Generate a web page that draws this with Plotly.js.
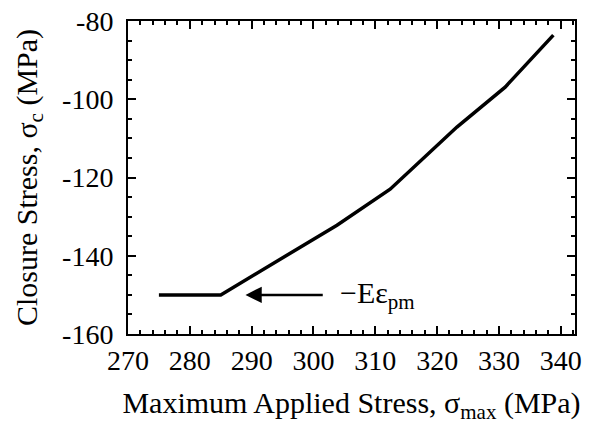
<!DOCTYPE html>
<html>
<head>
<meta charset="utf-8">
<script src="https://cdn.plot.ly/plotly-3.0.1.min.js"></script>
<style>
html,body{margin:0;padding:0;background:#fff;}
#chart{width:597px;height:428px;}
</style>
</head>
<body>
<div id="chart"></div>
<script>
// Data
const maxStress = [275, 285, 303.8, 312.4, 323.2, 331, 338.8];
const closureStress = [-150, -150, -132.2, -123, -107.1, -96.9, -83.6];

const xTickVals = [270, 280, 290, 300, 310, 320, 330, 340];
const xTickText = ["270", "280", "290", "300", "310", "320", "330", "340"];
const yTickVals = [-160, -140, -120, -100, -80];
const yTickText = ["-160\u00a0", "-140\u00a0", "-120\u00a0", "-100\u00a0", "-80\u00a0"];

// Arrow annotation (head and tail on the data scale, at the plateau level)
const arrowHeadX = 289;
const arrowTailX = 301.5;
const arrowY = -150;
const labelText = "\u00a0\u00a0\u2212E\u03b5<sub>pm</sub>";

const FONT = "Liberation Serif";

const layout = {
  width: 597,
  height: 428,
  margin: {l: 128, r: 22, t: 21, b: 94},
  font: {family: FONT, color: "#000", size: 28},
  xaxis: {
    range: [270, 342.3],
    showgrid: false, zeroline: false,
    showline: true, mirror: "ticks", linecolor: "#000", linewidth: 2,
    ticks: "inside", ticklen: 8, tickwidth: 2, tickcolor: "#000",
    tickmode: "array", tickvals: xTickVals, ticktext: xTickText,
    tickfont: {family: FONT, size: 28, color: "#000"},
    minor: {ticks: "inside", dtick: 2, ticklen: 4, tickcolor: "#000"},
    title: {text: "Maximum Applied Stress, \u03c3<sub>max</sub> (MPa)", font: {family: FONT, size: 30, color: "#000"}, standoff: 17}
  },
  yaxis: {
    range: [-160, -80],
    showgrid: false, zeroline: false,
    showline: true, mirror: "ticks", linecolor: "#000", linewidth: 2,
    ticks: "inside", ticklen: 8, tickwidth: 2, tickcolor: "#000",
    tickmode: "array", tickvals: yTickVals, ticktext: yTickText,
    tickfont: {family: FONT, size: 28, color: "#000"},
    minor: {ticks: "inside", dtick: 5, ticklen: 4, tickcolor: "#000"},
    title: {text: "Closure Stress, \u03c3<sub>c</sub> (MPa)", font: {family: FONT, size: 30, color: "#000"}, standoff: 16}
  },
  annotations: [
    {
      x: arrowHeadX, y: arrowY, xref: "x", yref: "y",
      ax: arrowTailX, ay: arrowY, axref: "x", ayref: "y",
      text: labelText, showarrow: true,
      xanchor: "left", yanchor: "middle",
      arrowhead: 2, arrowsize: 1.3, arrowwidth: 2.5, arrowcolor: "#000", standoff: 0,
      font: {family: FONT, size: 30, color: "#000"}
    }
  ]
};

Plotly.newPlot("chart", [{
  x: maxStress, y: closureStress, mode: "lines",
  line: {color: "#000", width: 3.5}
}], layout, {staticPlot: true});
</script>
</body>
</html>
